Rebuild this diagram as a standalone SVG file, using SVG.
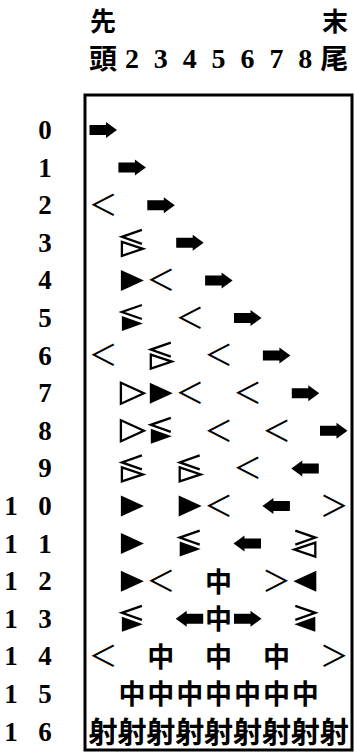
<svg xmlns="http://www.w3.org/2000/svg" width="355" height="754" viewBox="0 0 355 754">
<style>
.cjk{font-family:"Noto Sans CJK JP","Noto Sans CJK SC",sans-serif;font-weight:700;fill:#000;text-anchor:middle}
.mid{font-size:27px}
.sha{font-size:29px}
.hd{font-size:28px}
.top{font-size:26px}
.lt{font-family:"Noto Sans CJK JP","Noto Sans CJK SC",sans-serif;font-weight:400;font-size:29px;fill:#000;text-anchor:middle}
.num{font-family:"Liberation Serif",serif;font-weight:700;font-size:27px;fill:#000;text-anchor:middle}
.hnum{font-family:"Liberation Serif",serif;font-weight:700;font-size:28px;fill:#000;text-anchor:middle}
.frame{fill:none;stroke:#000;stroke-width:3}
.ln{fill:none;stroke:#000;stroke-width:2.3;stroke-linejoin:miter}
</style>
<defs>
<path id="arR" d="M-13.5,-5 H3 V-8 L14,0 L3,8 V5 H-13.5 Z" fill="#000"/>
<path id="triF" d="M-11,-10.5 L12,0 L-11,10.5 Z" fill="#000"/>
<path id="triO" d="M-11,-10.5 L12,0 L-11,10.5 Z" fill="none" stroke="#000" stroke-width="2.3"/>
<g id="cmbO">
<path d="M10,-13 L-10,-6 L10,1" class="ln"/>
<path d="M-10,-1 L11,6 L-10,13 Z" class="ln"/>
</g>
<g id="cmbF">
<path d="M10,-13 L-10,-6 L10,1" class="ln"/>
<path d="M-10,-2 L11,5.5 L-10,13 Z" fill="#000"/>
</g>
</defs>

<g id="header">
<text class="cjk top" x="103" y="31">先</text>
<text class="cjk top" x="335" y="31">末</text>
<text class="cjk hd" x="103" y="69">頭</text>
<text class="hnum" x="131.9" y="67.5">2</text>
<text class="hnum" x="160.8" y="67.5">3</text>
<text class="hnum" x="189.7" y="67.5">4</text>
<text class="hnum" x="218.6" y="67.5">5</text>
<text class="hnum" x="247.5" y="67.5">6</text>
<text class="hnum" x="276.4" y="67.5">7</text>
<text class="hnum" x="305.3" y="67.5">8</text>
<text class="cjk hd" x="334.2" y="69">尾</text>
</g>

<g id="frame"><rect class="frame" x="85" y="95" width="267" height="655"/></g>

<g id="labels">
<text class="num" x="45" y="139">0</text>
<text class="num" x="45" y="176.6">1</text>
<text class="num" x="45" y="214.2">2</text>
<text class="num" x="45" y="251.8">3</text>
<text class="num" x="45" y="289.4">4</text>
<text class="num" x="45" y="327">5</text>
<text class="num" x="45" y="364.6">6</text>
<text class="num" x="45" y="402.2">7</text>
<text class="num" x="45" y="439.8">8</text>
<text class="num" x="45" y="477.4">9</text>
<text class="num" x="11" y="515">1</text><text class="num" x="45" y="515">0</text>
<text class="num" x="11" y="552.6">1</text><text class="num" x="45" y="552.6">1</text>
<text class="num" x="11" y="590.2">1</text><text class="num" x="45" y="590.2">2</text>
<text class="num" x="11" y="627.8">1</text><text class="num" x="45" y="627.8">3</text>
<text class="num" x="11" y="665.4">1</text><text class="num" x="45" y="665.4">4</text>
<text class="num" x="11" y="703">1</text><text class="num" x="45" y="703">5</text>
<text class="num" x="11" y="740.6">1</text><text class="num" x="45" y="740.6">6</text>
</g>

<g id="row0"><use href="#arR" transform="translate(103,130)"/></g>
<g id="row1"><use href="#arR" transform="translate(131.9,167.6)"/></g>
<g id="row2">
<text class="lt" x="103" y="216">＜</text>
<use href="#arR" transform="translate(160.8,205.2)"/>
</g>
<g id="row3">
<use href="#cmbO" transform="translate(131.9,242.8)"/>
<use href="#arR" transform="translate(189.7,242.8)"/>
</g>
<g id="row4">
<use href="#triF" transform="translate(131.9,280.4)"/>
<text class="lt" x="160.8" y="291.2">＜</text>
<use href="#arR" transform="translate(218.6,280.4)"/>
</g>
<g id="row5">
<use href="#cmbF" transform="translate(131.9,318)"/>
<text class="lt" x="189.7" y="328.8">＜</text>
<use href="#arR" transform="translate(247.5,318)"/>
</g>
<g id="row6">
<text class="lt" x="103" y="366.4">＜</text>
<use href="#cmbO" transform="translate(160.8,355.6)"/>
<text class="lt" x="218.6" y="366.4">＜</text>
<use href="#arR" transform="translate(276.4,355.6)"/>
</g>
<g id="row7">
<use href="#triO" transform="translate(131.9,393.2)"/>
<use href="#triF" transform="translate(160.8,393.2)"/>
<text class="lt" x="189.7" y="404">＜</text>
<text class="lt" x="247.5" y="404">＜</text>
<use href="#arR" transform="translate(305.3,393.2)"/>
</g>
<g id="row8">
<use href="#triO" transform="translate(131.9,430.8)"/>
<use href="#cmbF" transform="translate(160.8,430.8)"/>
<text class="lt" x="218.6" y="441.6">＜</text>
<text class="lt" x="276.4" y="441.6">＜</text>
<use href="#arR" transform="translate(333.5,430.8)"/>
</g>
<g id="row9">
<use href="#cmbO" transform="translate(131.9,468.4)"/>
<use href="#cmbO" transform="translate(189.7,468.4)"/>
<text class="lt" x="247.5" y="479.2">＜</text>
<use href="#arR" transform="translate(305.3,468.4) scale(-1,1)"/>
</g>
<g id="row10">
<use href="#triF" transform="translate(131.9,506)"/>
<use href="#triF" transform="translate(189.7,506)"/>
<text class="lt" x="218.6" y="516.8">＜</text>
<use href="#arR" transform="translate(276.4,506) scale(-1,1)"/>
<text class="lt" x="334.2" y="516.8">＞</text>
</g>
<g id="row11">
<use href="#triF" transform="translate(131.9,543.6)"/>
<use href="#cmbF" transform="translate(189.7,543.6)"/>
<use href="#arR" transform="translate(247.5,543.6) scale(-1,1)"/>
<use href="#cmbO" transform="translate(305.3,543.6) scale(-1,1)"/>
</g>
<g id="row12">
<use href="#triF" transform="translate(131.9,581.2)"/>
<text class="lt" x="160.8" y="592">＜</text>
<text class="cjk mid" x="218.6" y="591.5">中</text>
<text class="lt" x="276.4" y="592">＞</text>
<use href="#triF" transform="translate(305.3,581.2) scale(-1,1)"/>
</g>
<g id="row13">
<use href="#cmbF" transform="translate(131.9,618.8)"/>
<use href="#arR" transform="translate(189.7,618.8) scale(-1,1)"/>
<text class="cjk mid" x="218.6" y="629.1">中</text>
<use href="#arR" transform="translate(247.5,618.8)"/>
<use href="#cmbF" transform="translate(305.3,618.8) scale(-1,1)"/>
</g>
<g id="row14">
<text class="lt" x="103" y="667.2">＜</text>
<text class="cjk mid" x="160.8" y="666.7">中</text>
<text class="cjk mid" x="218.6" y="666.7">中</text>
<text class="cjk mid" x="276.4" y="666.7">中</text>
<text class="lt" x="334.2" y="667.2">＞</text>
</g>
<g id="row15">
<text class="cjk mid" x="131.9" y="704.3">中</text>
<text class="cjk mid" x="160.8" y="704.3">中</text>
<text class="cjk mid" x="189.7" y="704.3">中</text>
<text class="cjk mid" x="218.6" y="704.3">中</text>
<text class="cjk mid" x="247.5" y="704.3">中</text>
<text class="cjk mid" x="276.4" y="704.3">中</text>
<text class="cjk mid" x="305.3" y="704.3">中</text>
</g>
<g id="row16">
<text class="cjk sha" x="103" y="742.6">射</text>
<text class="cjk sha" x="131.9" y="742.6">射</text>
<text class="cjk sha" x="160.8" y="742.6">射</text>
<text class="cjk sha" x="189.7" y="742.6">射</text>
<text class="cjk sha" x="218.6" y="742.6">射</text>
<text class="cjk sha" x="247.5" y="742.6">射</text>
<text class="cjk sha" x="276.4" y="742.6">射</text>
<text class="cjk sha" x="305.3" y="742.6">射</text>
<text class="cjk sha" x="334.2" y="742.6">射</text>
</g>
<g id="connectors"/>
</svg>
